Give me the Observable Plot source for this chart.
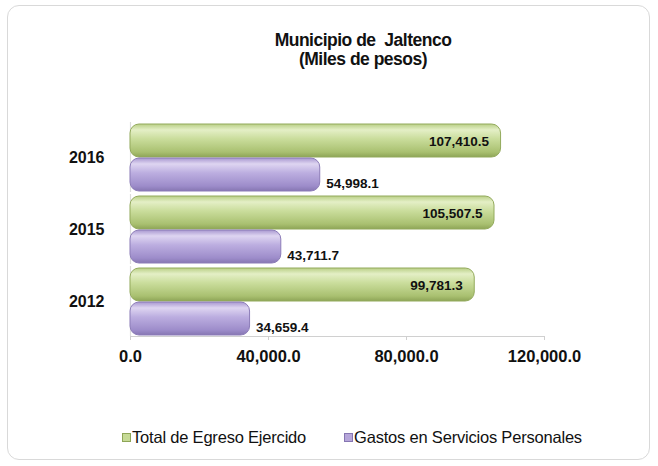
<!DOCTYPE html>
<html>
<head>
<meta charset="utf-8">
<script src="https://cdn.jsdelivr.net/npm/d3@7"></script>
<script src="https://cdn.jsdelivr.net/npm/@observablehq/plot@0.6"></script>
<style>
  html, body { margin: 0; padding: 0; background: #fff; }
  #wrap { position: relative; width: 658px; height: 466px; font-family: "Liberation Sans", Arial, sans-serif; color: #111; overflow: hidden; }
  #frame { position: absolute; left: 7px; top: 5px; width: 643px; height: 455px; border: 1px solid #d9d9d9; border-radius: 12px; box-sizing: border-box; }
  #title { position: absolute; left: 34px; width: 658px; top: 31px; text-align: center; font-weight: bold; font-size: 17.5px; line-height: 19px; letter-spacing: -0.5px; }
  #chart { position: absolute; left: 0; top: 110px; }
  #legend { position: absolute; top: 428px; left: 122px; font-size: 16.5px; display: flex; gap: 38px; letter-spacing: -0.2px; }
  #legend span.sw { display: inline-block; width: 7px; height: 7px; margin-right: 1px; vertical-align: 1px; }
</style>
</head>
<body>
<div id="wrap">
  <div id="frame"></div>
  <div id="title">Municipio de&nbsp; Jaltenco<br>(Miles de pesos)</div>
  <div id="chart"></div>
  <div id="legend"></div>
</div>
<script>
// Data
const years = ["2016", "2015", "2012"];
const seriesNames = ["Total de Egreso Ejercido", "Gastos en Servicios Personales"];
const totalEgreso = [107410.5, 105507.5, 99781.3];
const gastosPersonales = [54998.1, 43711.7, 34659.4];
const xTicks = [0, 40000, 80000, 120000];

const seriesColors = ["#c6da96", "#b6a6da"];
const fmt = d3.format(",.1f");

const rows = [];
years.forEach((y, i) => {
  rows.push({year: y, series: seriesNames[0], value: totalEgreso[i]});
  rows.push({year: y, series: seriesNames[1], value: gastosPersonales[i]});
});

const svg = Plot.plot({
  width: 658,
  height: 262,
  marginLeft: 130,
  marginRight: 114,
  marginTop: 12,
  marginBottom: 36,
  style: {fontFamily: "Liberation Sans, Arial, sans-serif", color: "#111", background: "transparent"},
  x: {domain: [0, 120000], ticks: xTicks, tickFormat: d => fmt(d)},
  y: {domain: seriesNames, axis: null, paddingInner: 0.04, paddingOuter: 0.03},
  fy: {domain: years, padding: 0.03},
  marks: [
    Plot.ruleX([0], {stroke: "#dcdcdc", strokeWidth: 1.2}),
    Plot.frame({anchor: "bottom", facetAnchor: "bottom", stroke: "#d0d0d0"}),
    Plot.axisFy({anchor: "left", tickSize: 0, tickPadding: 26, fontSize: 16, fontWeight: "bold", label: null}),
    Plot.axisX({anchor: "bottom", ticks: xTicks, tickFormat: d => fmt(d), tickSize: 4, stroke: "#cfcfcf", fontSize: 16.5, fontWeight: "bold", tickPadding: 10, label: null}),
    Plot.barX(rows.filter(d => d.series === seriesNames[0]), {
      fy: "year", y: "series", x: "value", fill: "url(#gGreen)", stroke: "#93aa5c", strokeWidth: 1, rx: 9
    }),
    Plot.barX(rows.filter(d => d.series === seriesNames[1]), {
      fy: "year", y: "series", x: "value", fill: "url(#gPurple)", stroke: "#8c7cb8", strokeWidth: 1, rx: 9
    }),
    Plot.text(rows.filter(d => d.series === seriesNames[0]), {
      fy: "year", y: "series", x: "value", text: d => fmt(d.value),
      textAnchor: "end", dx: -12, dy: 1, fontSize: 13.5, fontWeight: "bold", fill: "#111"
    }),
    Plot.text(rows.filter(d => d.series === seriesNames[1]), {
      fy: "year", y: "series", x: "value", text: d => fmt(d.value),
      textAnchor: "start", dx: 6, dy: 9, fontSize: 13.5, fontWeight: "bold", fill: "#111"
    })
  ]
});

// gradients for the cylinder look
const defs = d3.select(svg).insert("defs", ":first-child");
function grad(id, stops) {
  const g = defs.append("linearGradient").attr("id", id).attr("x1", 0).attr("y1", 0).attr("x2", 0).attr("y2", 1);
  stops.forEach(([o, c]) => g.append("stop").attr("offset", o).attr("stop-color", c));
}
grad("gGreen", [["0%", "#b9cf86"], ["18%", "#e4efc6"], ["45%", "#cadd9c"], ["85%", "#a9c070"], ["100%", "#8ea557"]]);
grad("gPurple", [["0%", "#a897d0"], ["18%", "#ded5f1"], ["45%", "#bcaee0"], ["85%", "#9d8cca"], ["100%", "#8676b2"]]);

document.getElementById("chart").appendChild(svg);

const legend = document.getElementById("legend");
seriesNames.forEach((name, i) => {
  const item = document.createElement("div");
  const sw = document.createElement("span");
  sw.className = "sw";
  sw.style.background = seriesColors[i];
  sw.style.border = "1px solid " + (i === 0 ? "#8ea557" : "#8676b2");
  item.appendChild(sw);
  item.appendChild(document.createTextNode(name));
  legend.appendChild(item);
});
</script>
</body>
</html>
